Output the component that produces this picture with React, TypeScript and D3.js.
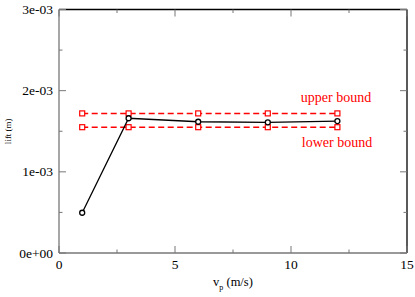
import React, { useEffect, useRef } from 'react';
import * as d3 from 'd3';

const WIDTH = 415;
const HEIGHT = 297;
const MARGIN = { top: 9.5, right: 8, bottom: 44, left: 59 };

const speeds = [1, 3, 6, 9, 12];
const lift = [0.000496, 0.00166, 0.001617, 0.00161, 0.001625];
const upperBound = [0.00172, 0.00172, 0.00172, 0.00172, 0.00172];
const lowerBound = [0.00155, 0.00155, 0.00155, 0.00155, 0.00155];
const xTicks = [0, 5, 10, 15];
const xMinor = [2.5, 7.5, 12.5];
const yTicks = [0, 0.001, 0.002, 0.003];
const yMinor = [0.0005, 0.0015, 0.0025];
const yLabels = ['0e+00', '1e-03', '2e-03', '3e-03'];

const FONT = 'Liberation Serif, DejaVu Serif, serif';

export default function App() {
  const ref = useRef<SVGSVGElement>(null);

  useEffect(() => {
    if (!ref.current) return;
    const svg = d3.select(ref.current);
    svg.selectAll('*').remove();

    const x = d3.scaleLinear().domain([0, 15]).range([MARGIN.left, WIDTH - MARGIN.right]);
    const y = d3.scaleLinear().domain([0, 0.003]).range([HEIGHT - MARGIN.bottom, MARGIN.top]);
    const [x0, x1] = x.range();
    const [y0, y1] = y.range();

    svg.append('rect').attr('width', WIDTH).attr('height', HEIGHT).attr('fill', 'white');

    // frame: left/bottom grey, top/right black
    const frame = svg.append('g').attr('stroke-width', 1.3).attr('fill', 'none');
    frame.append('line').attr('x1', x0).attr('x2', x1).attr('y1', y1).attr('y2', y1).attr('stroke', '#000');
    frame.append('line').attr('x1', x1).attr('x2', x1).attr('y1', y1).attr('y2', y0).attr('stroke', '#000');
    frame.append('line').attr('x1', x0).attr('x2', x0).attr('y1', y1).attr('y2', y0).attr('stroke', '#777');
    frame.append('line').attr('x1', x0).attr('x2', x1).attr('y1', y0).attr('y2', y0).attr('stroke', '#777');

    const ticks = svg.append('g').attr('stroke-width', 1);
    const addX = (vals: number[], len: number) => {
      vals.forEach((v) => {
        ticks.append('line').attr('x1', x(v)).attr('x2', x(v)).attr('y1', y0).attr('y2', y0 - len).attr('stroke', '#777');
        ticks.append('line').attr('x1', x(v)).attr('x2', x(v)).attr('y1', y1).attr('y2', y1 + len).attr('stroke', '#777');
      });
    };
    const addY = (vals: number[], len: number) => {
      vals.forEach((v) => {
        ticks.append('line').attr('x1', x0).attr('x2', x0 + len).attr('y1', y(v)).attr('y2', y(v)).attr('stroke', '#777');
        ticks.append('line').attr('x1', x1).attr('x2', x1 - len).attr('y1', y(v)).attr('y2', y(v)).attr('stroke', '#777');
      });
    };
    addX(xTicks, 7);
    addX(xMinor, 3.5);
    addY(yTicks, 7);
    addY(yMinor, 3.5);

    svg.append('g')
      .selectAll('text')
      .data(xTicks)
      .join('text')
      .attr('x', (d) => x(d))
      .attr('y', y0 + 16)
      .attr('text-anchor', 'middle')
      .attr('font-family', FONT)
      .attr('font-size', 13.5)
      .text((d) => d);

    svg.append('g')
      .selectAll('text')
      .data(yTicks)
      .join('text')
      .attr('x', x0 - 6)
      .attr('y', (d) => y(d) + 4.5)
      .attr('text-anchor', 'end')
      .attr('font-family', FONT)
      .attr('font-size', 13.5)
      .text((_, i) => yLabels[i]);

    // axis titles
    const xt = svg.append('text')
      .attr('x', (x0 + x1) / 2)
      .attr('y', y0 + 33)
      .attr('text-anchor', 'middle')
      .attr('font-family', FONT)
      .attr('font-size', 12.5);
    xt.append('tspan').text('v');
    xt.append('tspan').attr('dy', 4).attr('font-size', 8).text('p');
    xt.append('tspan').attr('dy', -4).text(' (m/s)');

    svg.append('text')
      .attr('transform', `translate(11, ${(y0 + y1) / 2}) rotate(-90)`)
      .attr('text-anchor', 'middle')
      .attr('font-family', FONT)
      .attr('font-size', 9)
      .text('lift (m)');

    const line = d3.line<number>().x((_, i) => x(speeds[i])).y((d) => y(d));

    [upperBound, lowerBound].forEach((series) => {
      svg.append('path')
        .attr('d', line(series))
        .attr('fill', 'none')
        .attr('stroke', '#ff0000')
        .attr('stroke-width', 1.5)
        .attr('stroke-dasharray', '6,3.5');
      svg.append('g')
        .selectAll('rect')
        .data(series)
        .join('rect')
        .attr('x', (_, i) => x(speeds[i]) - 2.5)
        .attr('y', (d) => y(d) - 2.5)
        .attr('width', 5)
        .attr('height', 5)
        .attr('fill', 'white')
        .attr('stroke', '#ff0000')
        .attr('stroke-width', 1.2);
    });

    svg.append('path')
      .attr('d', line(lift))
      .attr('fill', 'none')
      .attr('stroke', '#000')
      .attr('stroke-width', 1.3);
    svg.append('g')
      .selectAll('circle')
      .data(lift)
      .join('circle')
      .attr('cx', (_, i) => x(speeds[i]))
      .attr('cy', (d) => y(d))
      .attr('r', 2.5)
      .attr('fill', 'white')
      .attr('stroke', '#000')
      .attr('stroke-width', 1.3);

    svg.append('text')
      .attr('x', 336)
      .attr('y', 102)
      .attr('text-anchor', 'middle')
      .attr('fill', '#ff0000')
      .attr('font-family', FONT)
      .attr('font-size', 14)
      .text('upper bound');
    svg.append('text')
      .attr('x', 337)
      .attr('y', 147)
      .attr('text-anchor', 'middle')
      .attr('fill', '#ff0000')
      .attr('font-family', FONT)
      .attr('font-size', 14)
      .text('lower bound');
  }, []);

  return (
    <svg
      ref={ref}
      width={WIDTH}
      height={HEIGHT}
      style={{ position: 'absolute', left: 0, top: 0 }}
    />
  );
}
